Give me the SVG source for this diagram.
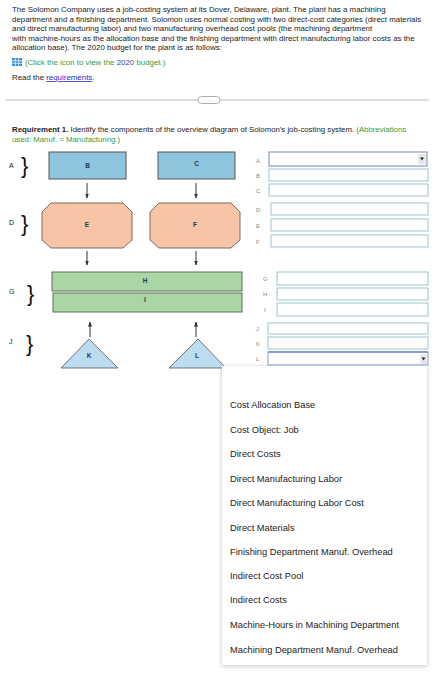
<svg xmlns="http://www.w3.org/2000/svg" width="435" height="700" viewBox="0 0 435 700">
<style>
text{font-family:"Liberation Sans",Arial,sans-serif}
.p{font-size:7.9px;fill:#222}
.r{font-size:7.8px;fill:#222}
.g{fill:#3a9a3a}
.lnk{fill:#2a2ad0;text-decoration:underline}
.lbl{font-size:6px;fill:#888}
.in{font-size:6.5px;fill:#1e3a5a;font-weight:bold}
.ltr{font-size:7px;fill:#222}
.br{font-size:22px;fill:#111}
.box{fill:#fff;stroke:#9cc6cc;stroke-width:1}
.dd{fill:#fff;stroke:#8a9cc8;stroke-width:1.2}
.blue{fill:#8fc4de;stroke:#555;stroke-width:1}
.oct{fill:#f8c4a6;stroke:#7a6a60;stroke-width:1}
.grn{fill:#a9d6a4;stroke:#5a6f5a;stroke-width:1}
.tri{fill:#bcdcef;stroke:#555;stroke-width:0.8}
.arr{stroke:#333;stroke-width:1;fill:none;marker-end:url(#ah)}
.opt{font-size:9.3px;fill:#222}
</style>
<defs>
<marker id="ah" viewBox="0 0 10 10" refX="9" refY="5" markerWidth="5" markerHeight="5" orient="auto">
<path d="M0,1 L10,5 L0,9 Z" fill="#333"/>
</marker>
<filter id="sh" x="-10%" y="-10%" width="120%" height="120%">
<feDropShadow dx="0" dy="1" stdDeviation="2" flood-color="#000" flood-opacity="0.25"/>
</filter>
</defs>
<rect width="435" height="700" fill="#fff"/>
<g id="intro">
<text class="p" x="12" y="12">The Solomon Company uses a job-costing system at its Dover, Delaware, plant. The plant has a machining</text>
<text class="p" x="12" y="21.5">department and a finishing department. Solomon uses normal costing with two direct-cost categories (direct materials</text>
<text class="p" x="12" y="31">and direct manufacturing labor) and two manufacturing overhead cost pools (the machining department</text>
<text class="p" x="12" y="40.5">with machine-hours as the allocation base and the finishing department with direct manufacturing labor costs as the</text>
<text class="p" x="12" y="50">allocation base). The 2020 budget for the plant is as follows:</text>
<g id="icon">
<rect x="12" y="58" width="10" height="8" fill="#3b8fd0"/>
<path d="M12,60.7 H22 M12,63.3 H22 M15.3,58 V66 M18.7,58 V66" stroke="#fff" stroke-width="0.7"/>
</g>
<text class="p g" x="25" y="64.5">(Click the icon to view the <tspan fill="#2a4ab0">2020</tspan> budget.)</text>
<text class="p" x="12" y="80">Read the <tspan class="lnk">requirements</tspan>.</text>
</g>
<g id="separator">
<line x1="6" y1="100" x2="429" y2="100" stroke="#bbb" stroke-width="1"/>
<rect x="198" y="96.5" width="22" height="7" rx="3.5" fill="#fff" stroke="#999" stroke-width="0.8"/>
<text x="209" y="101.5" font-size="5" fill="#666" text-anchor="middle">· · ·</text>
</g>
<g id="requirement">
<text class="r" x="12" y="132"><tspan font-weight="bold">Requirement 1.</tspan> Identify the components of the overview diagram of Solomon's job-costing system. <tspan class="g">(Abbreviations</tspan></text>
<text class="r g" x="12" y="141.5">used: Manuf. = Manufacturing.)</text>
</g>
<g id="left-labels">
<text class="ltr" x="9" y="168">A</text>
<text class="br" x="21" y="173">}</text>
<text class="ltr" x="9" y="225">D</text>
<text class="br" x="21" y="231">}</text>
<text class="ltr" x="9" y="294">G</text>
<text class="br" x="27" y="301">}</text>
<text class="ltr" x="9" y="344">J</text>
<text class="br" x="26" y="351">}</text>
</g>
<g id="connectors">
<line class="arr" x1="87" y1="183" x2="87" y2="198"/>
<line class="arr" x1="196" y1="183" x2="196" y2="198"/>
<line class="arr" x1="87" y1="251" x2="87" y2="265"/>
<line class="arr" x1="196" y1="251" x2="196" y2="265"/>
<line class="arr" x1="90" y1="337" x2="90" y2="322"/>
<line class="arr" x1="196" y1="337" x2="196" y2="322"/>
</g>
<g id="node-B"><rect class="blue" x="49" y="152" width="77" height="27"/><text class="in" x="87.5" y="168" text-anchor="middle">B</text></g>
<g id="node-C"><rect class="blue" x="158" y="152" width="77" height="27"/><text class="in" x="196.5" y="166" text-anchor="middle">C</text></g>
<g id="node-E"><polygon class="oct" points="51,203 123,203 132,212 132,240 123,248 51,248 42,240 42,212"/><text class="in" x="87" y="227" text-anchor="middle" fill="#7a4a30">E</text></g>
<g id="node-F"><polygon class="oct" points="159,203 231,203 240,212 240,240 231,248 159,248 150,240 150,212"/><text class="in" x="195" y="227" text-anchor="middle" fill="#7a4a30">F</text></g>
<g id="node-H"><rect class="grn" x="52" y="272" width="190" height="19"/><text class="in" x="145" y="283" text-anchor="middle" fill="#2a4a2a">H</text></g>
<g id="node-I"><rect class="grn" x="53" y="293" width="189" height="19"/><text class="in" x="145" y="302" text-anchor="middle" fill="#2a4a2a">I</text></g>
<g id="node-K"><polygon class="tri" points="89,339 118,368 61,368"/><text class="in" x="89" y="358" text-anchor="middle">K</text></g>
<g id="node-L"><polygon class="tri" points="198,339 226,368 169,368"/><text class="in" x="197" y="358" text-anchor="middle">L</text></g>
<g id="answer-inputs">
<text class="lbl" x="256" y="163">A</text>
<rect class="dd" x="269" y="152" width="158" height="14"/>
<rect x="418" y="154" width="8" height="10" fill="#e8e8e8"/>
<path d="M420,157.5 L424,157.5 L422,160.5 Z" fill="#222"/>
<text class="lbl" x="256" y="178">B</text>
<rect class="box" x="269" y="169" width="159" height="12"/>
<text class="lbl" x="256" y="193">C</text>
<rect class="box" x="269" y="184" width="159" height="12"/>
<text class="lbl" x="256" y="212">D</text>
<rect class="box" x="271" y="203" width="157" height="12"/>
<text class="lbl" x="256" y="228">E</text>
<rect class="box" x="271" y="219" width="157" height="12"/>
<text class="lbl" x="256" y="244">F</text>
<rect class="box" x="271" y="235" width="157" height="12"/>
<text class="lbl" x="263" y="281">G</text>
<rect class="box" x="277" y="272" width="151" height="13"/>
<text class="lbl" x="263" y="296">H</text>
<rect class="box" x="277" y="288" width="151" height="12"/>
<text class="lbl" x="264" y="312">I</text>
<rect class="box" x="277" y="303" width="151" height="13"/>
<text class="lbl" x="256" y="331">J</text>
<rect class="box" x="268" y="323" width="160" height="11"/>
<text class="lbl" x="256" y="346">K</text>
<rect class="box" x="268" y="337" width="160" height="12"/>
<text class="lbl" x="256" y="361">L</text>
<rect x="268" y="352" width="160" height="13" fill="#fff" stroke="#8a9cc8" stroke-width="1"/>
<line x1="268" y1="352" x2="428" y2="352" stroke="#6f8fd0" stroke-width="1.5"/>
<rect x="420" y="354" width="7" height="10" fill="#e8e8e8"/>
<path d="M421.5,357.5 L425.5,357.5 L423.5,360.5 Z" fill="#222"/>
</g>
<g id="dropdown-list">
<rect x="222" y="366" width="205" height="299" fill="#fff" filter="url(#sh)"/>
<text class="opt" x="230" y="408">Cost Allocation Base</text>
<text class="opt" x="230" y="433">Cost Object: Job</text>
<text class="opt" x="230" y="457">Direct Costs</text>
<text class="opt" x="230" y="482">Direct Manufacturing Labor</text>
<text class="opt" x="230" y="506">Direct Manufacturing Labor Cost</text>
<text class="opt" x="230" y="531">Direct Materials</text>
<text class="opt" x="230" y="555">Finishing Department Manuf. Overhead</text>
<text class="opt" x="230" y="579">Indirect Cost Pool</text>
<text class="opt" x="230" y="603">Indirect Costs</text>
<text class="opt" x="230" y="628">Machine-Hours in Machining Department</text>
<text class="opt" x="230" y="653">Machining Department Manuf. Overhead</text>
</g>
</svg>
